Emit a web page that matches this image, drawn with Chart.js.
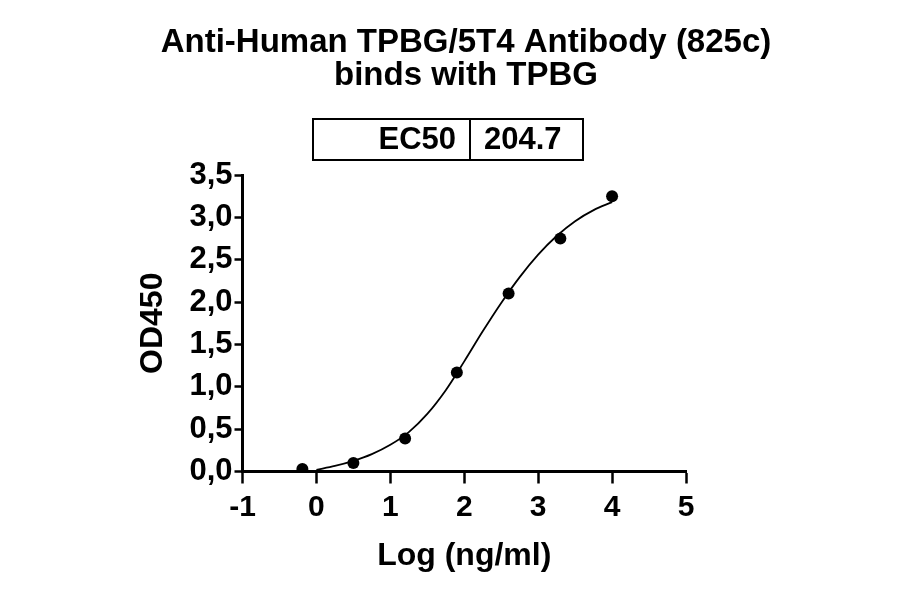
<!DOCTYPE html>
<html>
<head>
<meta charset="utf-8">
<script src="https://cdn.jsdelivr.net/npm/chart.js@4.4.1/dist/chart.umd.min.js"></script>
<style>
  html, body { margin: 0; padding: 0; background: #ffffff; }
  #wrap { width: 900px; height: 594px; }
</style>
</head>
<body>
<div id="wrap"><canvas id="c" width="900" height="594"></canvas></div>
<script>
// ---- data ----
const titleLines = ['Anti-Human TPBG/5T4 Antibody (825c)', 'binds with TPBG'];
const xAxisTitle = 'Log (ng/ml)';
const yAxisTitle = 'OD450';
const ec50Label = 'EC50';
const ec50Value = '204.7';

// measured points: log concentration vs OD450
const pointX = [-0.19, 0.5, 1.2, 1.9, 2.6, 3.3, 4.0];
const pointY = [0.03, 0.10, 0.39, 1.17, 2.10, 2.75, 3.25];

// fitted curve
const curveX = [0.0, 0.25, 0.5, 0.75, 1.0, 1.25, 1.5, 1.75, 2.0, 2.25, 2.5, 2.75, 3.0, 3.25, 3.5, 3.75, 4.0];
const curveY = [0.02, 0.065, 0.125, 0.205, 0.315, 0.465, 0.68, 0.96, 1.30, 1.655, 1.99, 2.295, 2.56, 2.78, 2.955, 3.085, 3.18];

const yTickLabels = ['0,0', '0,5', '1,0', '1,5', '2,0', '2,5', '3,0', '3,5'];
const xTickLabels = ['-1', '0', '1', '2', '3', '4', '5'];

// ---- build ----
const FONT = '"Liberation Sans", Arial, Helvetica, sans-serif';
const pointsData = pointX.map((x, i) => ({ x: x, y: pointY[i] }));
const curveData = curveX.map((x, i) => ({ x: x, y: curveY[i] }));

const ec50Box = {
  id: 'ec50Box',
  afterDraw(chart) {
    const ctx = chart.ctx;
    ctx.save();
    ctx.strokeStyle = '#000';
    ctx.lineWidth = 2;
    ctx.strokeRect(313, 119, 270, 41);
    ctx.beginPath();
    ctx.moveTo(470, 119);
    ctx.lineTo(470, 160);
    ctx.stroke();
    ctx.fillStyle = '#000';
    ctx.font = 'bold 31px ' + FONT;
    ctx.textBaseline = 'middle';
    ctx.textAlign = 'right';
    ctx.fillText(ec50Label, 456, 140);
    ctx.textAlign = 'left';
    ctx.fillText(ec50Value, 484, 140);
    ctx.restore();
  }
};

new Chart(document.getElementById('c'), {
  type: 'scatter',
  data: {
    datasets: [
      {
        label: 'fit',
        data: curveData,
        showLine: true,
        borderColor: '#000',
        borderWidth: 1.8,
        pointRadius: 0,
        cubicInterpolationMode: 'monotone',
        fill: false,
        order: 2
      },
      {
        label: 'data',
        data: pointsData,
        showLine: false,
        pointRadius: 6,
        pointBackgroundColor: '#000',
        pointBorderWidth: 0,
        order: 1
      }
    ]
  },
  plugins: [ec50Box],
  options: {
    responsive: false,
    animation: false,
    devicePixelRatio: 1,
    layout: { padding: { left: 32, right: 0, top: 0, bottom: 0 } },
    plugins: {
      legend: { display: false },
      tooltip: { enabled: false },
      title: {
        display: true,
        text: titleLines,
        color: '#000',
        font: { family: FONT, size: 33, weight: 'bold', lineHeight: 33 / 33 },
        padding: { top: 26.5, bottom: 82.5 }
      }
    },
    scales: {
      x: {
        type: 'linear',
        min: -1,
        max: 5,
        ticks: {
          stepSize: 1,
          color: '#000',
          padding: 6,
          font: { family: FONT, size: 30, weight: 'bold' },
          callback: (v) => { const i = Math.round(v + 1); return xTickLabels[i] !== undefined ? xTickLabels[i] : ''; }
        },
        grid: { display: true, drawOnChartArea: false, drawTicks: true, tickLength: 12, tickWidth: 2.5, tickColor: '#000', color: '#000' },
        border: { display: true, width: 3, color: '#000' },
        title: {
          display: true,
          text: xAxisTitle,
          color: '#000',
          font: { family: FONT, size: 32, weight: 'bold' },
          padding: { top: 0, bottom: 19 }
        },
        afterFit: (s) => { s.height = 122.5; }
      },
      y: {
        type: 'linear',
        position: 'left',
        min: 0,
        max: 3.5,
        ticks: {
          stepSize: 0.5,
          color: '#000',
          padding: 2,
          font: { family: FONT, size: 31, weight: 'bold' },
          callback: (v) => { const i = Math.round(v * 2); return yTickLabels[i] !== undefined ? yTickLabels[i] : ''; }
        },
        grid: { display: true, drawOnChartArea: false, drawTicks: true, tickLength: 8, tickWidth: 2.5, tickColor: '#000', color: '#000' },
        border: { display: true, width: 3, color: '#000' },
        title: {
          display: true,
          text: yAxisTitle,
          color: '#000',
          font: { family: FONT, size: 32, weight: 'bold' },
          padding: { top: 102, bottom: 0 }
        },
        afterFit: (s) => { s.width = 210.5; }
      },
      yRight: {
        type: 'linear',
        position: 'right',
        display: true,
        ticks: { display: false },
        grid: { display: false },
        border: { display: false },
        afterFit: (s) => { s.width = 214; }
      }
    }
  }
});
</script>
</body>
</html>
